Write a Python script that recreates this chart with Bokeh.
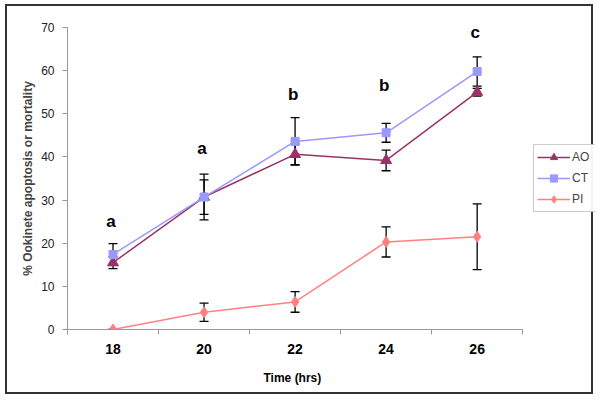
from bokeh.plotting import figure
from bokeh.models import (Range1d, FixedTicker, Whisker, ColumnDataSource,
                          Legend, LegendItem, TeeHead, Title)
from bokeh.embed import file_html
from bokeh.resources import INLINE
from bokeh.core.properties import value

times = ["18", "20", "22", "24", "26"]
ao = [15.5, 30.7, 40.6, 39.2, 55.0]
ao_err = [1.4, 4.0, 2.4, 2.4, 0.9]
ct = [17.4, 30.7, 43.6, 45.6, 59.8]
ct_err = [2.5, 5.3, 5.5, 2.2, 3.4]
pi = [0.0, 4.0, 6.4, 20.3, 21.5]
pi_err = [0.0, 2.1, 2.4, 3.5, 7.6]
letters = ["a", "a", "b", "b", "c"]
letter_y = [25.0, 42.0, 54.5, 56.5, 68.8]
y_ticks = [0, 10, 20, 30, 40, 50, 60, 70]

FONT = "Liberation Sans"
C_AO = "#993366"
C_CT = "#9999FF"
C_PI = "#FF8080"

xs = [i + 0.5 for i in range(len(times))]
n = len(times)

p = figure(width=588, height=390, output_backend="svg", toolbar_location=None,
           x_range=Range1d(0, 5.80), y_range=Range1d(0, 70),
           min_border_left=60, min_border_right=0, min_border_top=21,
           min_border_bottom=67)
p.styles = {"border": "2px solid #333333", "margin-left": "5px", "margin-top": "4px"}
p.grid.visible = False
p.outline_line_color = None
p.background_fill_color = "white"
p.border_fill_color = "white"

# axes
xa = p.xaxis[0]
xa.bounds = (0, n)
xa.ticker = FixedTicker(ticks=xs, minor_ticks=list(range(n + 1)))
xa.major_label_overrides = {x: t for x, t in zip(xs, times)}
xa.major_tick_line_color = None
xa.minor_tick_out = 5
xa.minor_tick_in = 0
xa.minor_tick_line_color = "#999999"
xa.axis_line_color = "#999999"
xa.major_label_text_font = FONT
xa.major_label_text_font_style = "bold"
xa.major_label_text_font_size = "14px"
xa.major_label_text_color = "black"
xa.major_label_standoff = 8

p.add_layout(Title(text="Time (hrs)", align="left", offset=196, standoff=24,
                   text_font=FONT, text_font_style="bold", text_font_size="12px",
                   text_color="black"), "below")

ya = p.yaxis[0]
ya.bounds = (0, 70)
ya.ticker = FixedTicker(ticks=y_ticks, minor_ticks=[])
ya.axis_line_color = "#999999"
ya.major_tick_line_color = "#999999"
ya.major_tick_out = 5
ya.major_tick_in = 0
ya.major_label_text_font = FONT
ya.major_label_text_font_size = "12px"
ya.major_label_text_color = "#222222"
ya.major_label_standoff = 8
ya.axis_label = "% Ookinete apoptosis or mortality"
ya.axis_label_text_font = FONT
ya.axis_label_text_font_style = "bold"
ya.axis_label_text_font_size = "12px"
ya.axis_label_standoff = 3

# error bars
def whisk(vals, errs):
    src = ColumnDataSource(dict(x=xs, lo=[v - e for v, e in zip(vals, errs)],
                                hi=[v + e for v, e in zip(vals, errs)]))
    w = Whisker(source=src, base="x", lower="lo", upper="hi", line_color="black",
                line_width=1.3,
                upper_head=TeeHead(size=9, line_color="black", line_width=1.3),
                lower_head=TeeHead(size=9, line_color="black", line_width=1.3))
    p.add_layout(w)

whisk(ao, ao_err)
whisk(ct, ct_err)
whisk(pi, pi_err)

# series
l_ao = p.line(xs, ao, line_color=C_AO, line_width=1.5)
m_ao = p.scatter(xs, ao, marker="triangle", size=11, fill_color=C_AO, line_color=C_AO)
l_ct = p.line(xs, ct, line_color=C_CT, line_width=1.5)
m_ct = p.scatter(xs, ct, marker="square", size=8, fill_color=C_CT, line_color=C_CT)
l_pi = p.line(xs, pi, line_color=C_PI, line_width=1.5)
m_pi = p.scatter(xs, pi, marker="diamond", size=11, fill_color=C_PI, line_color=C_PI)

# letters
p.text(x=xs, y=letter_y, text=letters, text_font=value(FONT), text_font_style="bold",
       text_font_size="17px", text_align="center", text_baseline="alphabetic",
       text_color="black", x_offset=-2)

legend = Legend(items=[LegendItem(label="AO", renderers=[l_ao, m_ao]),
                       LegendItem(label="CT", renderers=[l_ct, m_ct]),
                       LegendItem(label="PI", renderers=[l_pi, m_pi])],
                location=(466, 117), orientation="vertical",
                label_text_font=FONT, label_text_font_size="12px",
                glyph_width=33, glyph_height=18, label_height=18,
                label_standoff=2, spacing=3, padding=3, margin=0,
                border_line_color="#999999", border_line_width=1,
                background_fill_color="white")
p.add_layout(legend)

open("out.html", "w").write(file_html(p, INLINE))
